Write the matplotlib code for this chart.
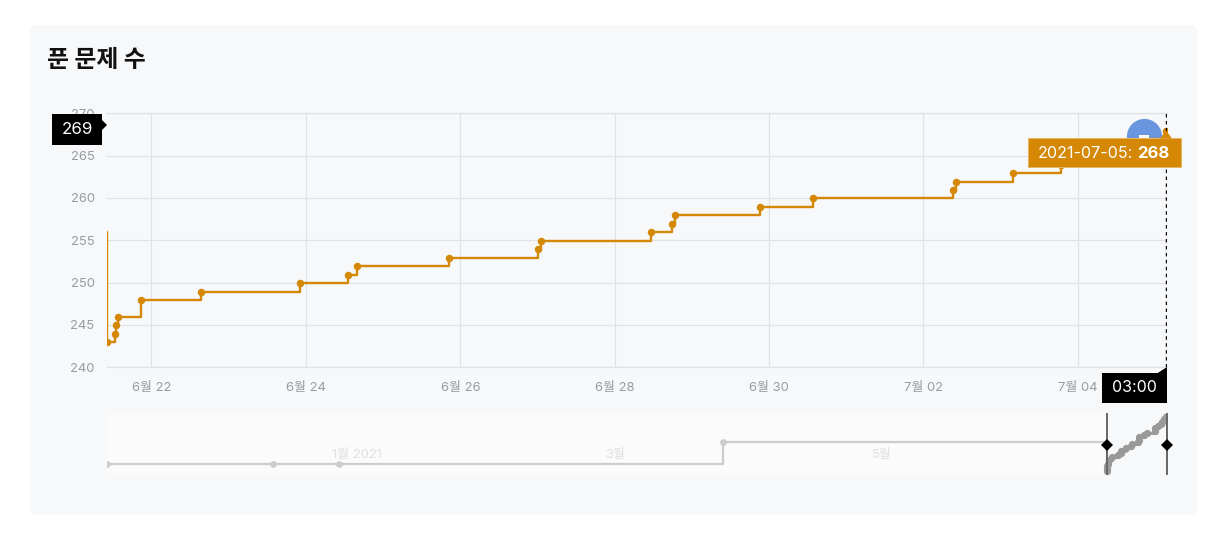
import pandas as pd
import matplotlib.pyplot as plt
from matplotlib.patches import FancyBboxPatch, Rectangle, Polygon
from matplotlib.transforms import ScaledTranslation

plt.rcParams['font.family'] = ['Inter', 'Noto Sans CJK KR', 'DejaVu Sans']

# 푼 문제 수 (누적)
dates = ['2020-11-04 20:38', '2020-12-12 17:00', '2020-12-28 00:00', '2021-03-25 18:00',
         '2021-06-21 10:10', '2021-06-21 12:40', '2021-06-21 13:07', '2021-06-21 13:26',
         '2021-06-21 20:44', '2021-06-22 15:23', '2021-06-23 22:10', '2021-06-24 13:05',
         '2021-06-24 15:53', '2021-06-25 20:28', '2021-06-27 00:08', '2021-06-27 01:05',
         '2021-06-28 11:17', '2021-06-28 17:46', '2021-06-28 18:43', '2021-06-29 21:07',
         '2021-06-30 13:40', '2021-07-02 09:07', '2021-07-02 10:05', '2021-07-03 03:50',
         '2021-07-03 18:43', '2021-07-04 02:00', '2021-07-04 11:00', '2021-07-04 20:00',
         '2021-07-05 03:22']
values = [246, 246, 246, 256,
          243, 244, 245, 246,
          248, 249, 250, 251,
          252, 253, 254, 255,
          256, 257, 258, 259,
          260, 261, 262, 263,
          264, 265, 266, 267,
          268]

main_start = '2021-06-21 10:10'
main_end = '2021-07-05 03:42'
mini_start = '2020-11-04 20:38'

x_tick_dates = ['2021-06-22', '2021-06-24', '2021-06-26', '2021-06-28',
                '2021-06-30', '2021-07-02', '2021-07-04']
x_tick_labels = ['6월 22', '6월 24', '6월 26', '6월 28', '6월 30', '7월 02', '7월 04']
y_ticks = [240, 245, 250, 255, 260, 265, 270]

mini_label_dates = ['2021-01-01', '2021-03-01', '2021-05-01']
mini_labels = ['1월 2021', '3월', '5월']

avatar_date = '2021-07-04 20:30'
avatar_value = 267.3

W, H = 1231, 537
CARD = '#f7f8fa'
ORANGE = '#d48806'
GRID = '#e0e2e6'
TICK = '#999ba1'

x = pd.to_datetime(dates)
x_main_start, x_main_end = pd.Timestamp(main_start), pd.Timestamp(main_end)
sel = x >= x_main_start
sel_values = [v for v, k in zip(values, sel) if k]


def box(left, top, right, bottom):
    return [left / W, 1 - bottom / H, (right - left) / W, (bottom - top) / H]


fig = plt.figure(figsize=(W / 100, H / 100), dpi=100, facecolor='white')

# 카드 배경
bg = fig.add_axes([0, 0, 1, 1], zorder=-1)
bg.set_xlim(0, W)
bg.set_ylim(H, 0)
bg.axis('off')
bg.add_patch(FancyBboxPatch((30, 25), 1168, 490, boxstyle='round,pad=0,rounding_size=8',
                            fc=CARD, ec='none'))
bg.text(47, 60, '푼 문제 수', fontsize=17.2, fontweight='bold', color='#111111',
        family=['Noto Sans CJK KR'], va='center', ha='left')

# 메인 차트 (선은 격자보다 0.6px 아래에 그려짐)
ax = fig.add_axes(box(107, 113.2, 1167, 367.2), facecolor='none')
nudge = ax.transData + ScaledTranslation(0, -0.6 / 100, fig.dpi_scale_trans)
ax.plot(x, values, drawstyle='steps-post', color=ORANGE, lw=1.7, zorder=3, transform=nudge)
ax.plot(x, values, 'o', color=ORANGE, ms=5.4, mew=0, zorder=4, transform=nudge)
ax.scatter(pd.to_datetime([avatar_date]), [avatar_value], s=640, color='#6a96e0', lw=0, zorder=2)
ax.set_xlim(x_main_start, x_main_end)
ax.set_ylim(240, 270)
ax.set_xticks(pd.to_datetime(x_tick_dates))
ax.set_xticklabels(x_tick_labels)
ax.set_yticks(y_ticks)
ax.grid(True, color=GRID, lw=0.9)
ax.set_axisbelow(True)
ax.tick_params(length=0, labelsize=9.4, labelcolor=TICK)
ax.tick_params(axis='x', pad=11)
ax.tick_params(axis='y', pad=9)
for s in ['left', 'right']:
    ax.spines[s].set_visible(False)
for s in ['top', 'bottom']:
    ax.spines[s].set_color(GRID)
    ax.spines[s].set_linewidth(0.9)
ax.axvline(x[-1], color='black', lw=1, ls=(0, (2.5, 2.5)), zorder=5)

# 아래 범위 선택 차트
mini = fig.add_axes(box(107, 414, 1167, 474), facecolor='#fbfbfc')
mini.plot(x, values, drawstyle='steps-post', color='#cccccc', lw=1.6, zorder=2)
mini.plot(x, values, 'o', color='#cccccc', ms=4.8, mew=0, zorder=2)
mini.axvspan(x_main_start, x_main_end, color=CARD, lw=0, zorder=1)
mini.plot(x[sel], sel_values, drawstyle='steps-post', color='#999999', lw=2, zorder=3)
mini.plot(x[sel], sel_values, 'o', color='#999999', ms=5.2, mew=0, zorder=3)
for d, t in zip(mini_label_dates, mini_labels):
    mini.text(pd.Timestamp(d), 0.32, t, transform=mini.get_xaxis_transform(), fontsize=9.4,
              color='#e0e0e0', ha='center', va='center', zorder=1)
mini.set_xlim(pd.Timestamp(mini_start), x_main_end)
mini.set_ylim(241.6, 268.4)
mini.set_xticks([])
mini.set_yticks([])
for s in mini.spines.values():
    s.set_visible(False)
for d in [x_main_start, x_main_end]:
    mini.axvline(d, color='#666666', lw=1.4, zorder=4, clip_on=False)
    mini.plot([d], [0.483], 'D', color='black', ms=6, mew=0, clip_on=False, zorder=5,
              transform=mini.get_xaxis_transform())

# 툴팁
top = fig.add_axes([0, 0, 1, 1], zorder=10, facecolor='none')
top.set_xlim(0, W)
top.set_ylim(H, 0)
top.axis('off')

top.add_patch(Rectangle((52, 114), 50, 30.5, fc='black', ec='none'))
top.add_patch(Polygon([(102, 120), (107, 125), (102, 130)], fc='black', ec='none'))
top.text(77.5, 129, '269', color='white', fontsize=12.2, ha='center', va='center')

top.add_patch(Rectangle((1139, 135), 10, 3, fc='white', ec='none'))
top.add_patch(Rectangle((1028, 138), 153, 29, fc=ORANGE, ec='#e6b566', lw=0.7))
top.add_patch(Polygon([(1160, 138.5), (1166, 130.5), (1172, 138.5)], fc=ORANGE, ec='none'))
top.text(1169, 153, '268', color='white', fontsize=12, fontweight='bold', ha='right', va='center')
top.text(1133, 153, '2021-07-05:', color='white', fontsize=11.6, ha='right', va='center')

top.add_patch(Rectangle((1101.5, 373), 65.5, 30, fc='black', ec='none'))
top.add_patch(Polygon([(1157, 373.5), (1167, 367), (1167, 373.5)], fc='black', ec='none'))
top.text(1134.5, 388, '03:00', color='white', fontsize=11.5, ha='center', va='center')

fig.savefig('out.png', dpi=100)
